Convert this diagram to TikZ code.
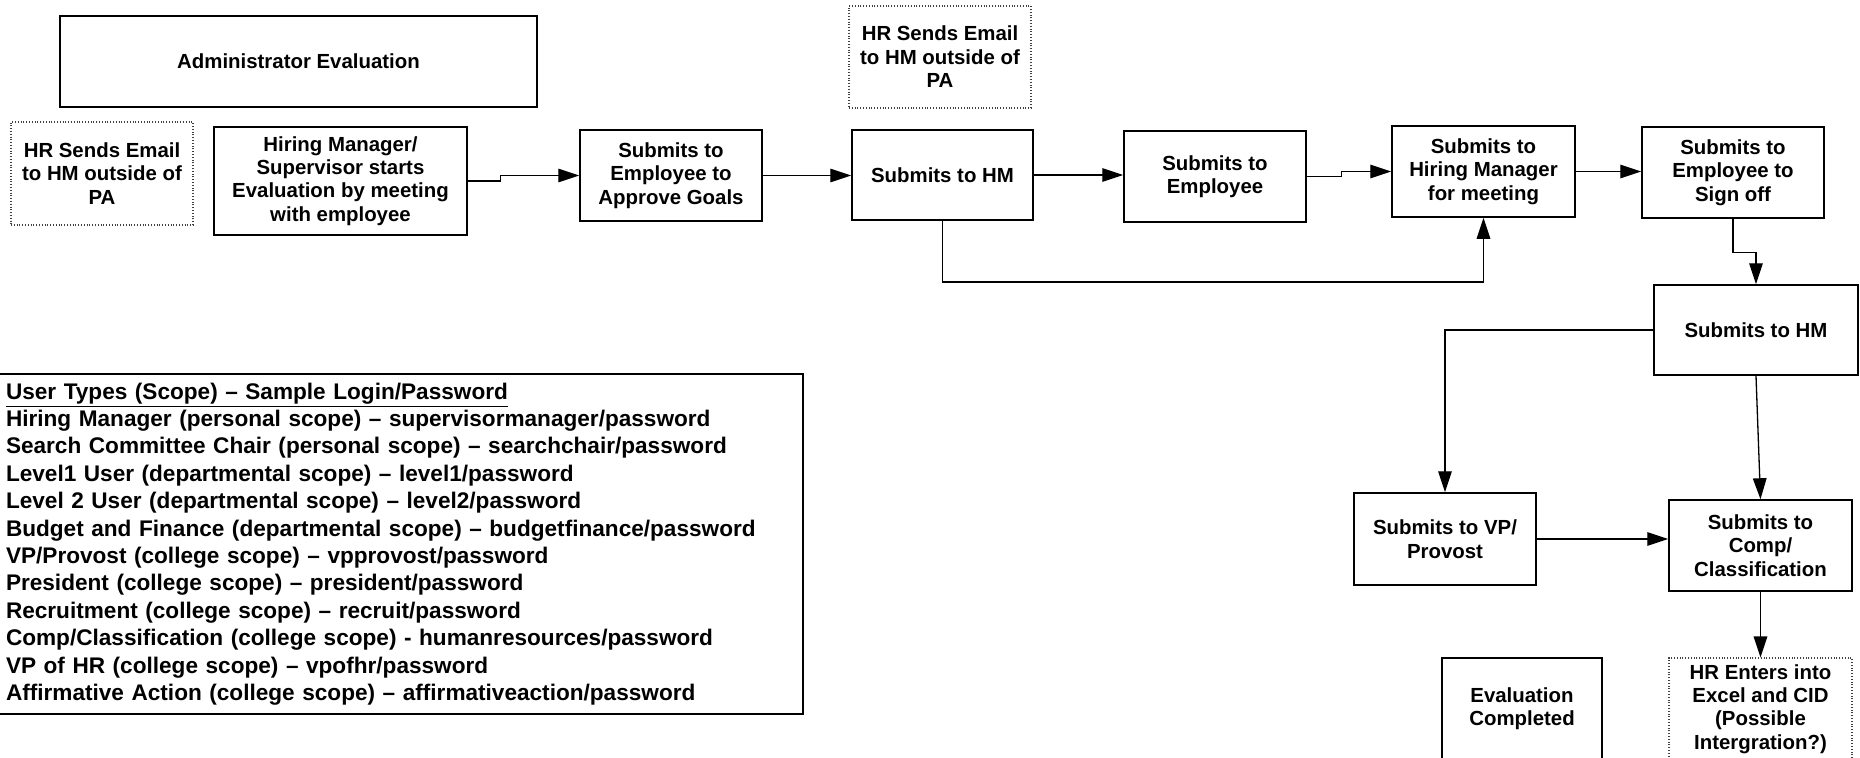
\documentclass[tikz,border=0pt]{standalone}
\usepackage{fontspec}
\setmainfont{Liberation Sans}
\usetikzlibrary{arrows.meta,calc}
\begin{document}
\begin{tikzpicture}[x=0.5pt,y=-0.5pt,
  box/.style={draw, line width=0.75pt, align=center, inner sep=0pt,
    font=\fontsize{10.2}{11.7}\selectfont\bfseries},
  dotbox/.style={box, line width=0.55pt, draw=black!75, dash pattern=on 0.5pt off 0.9pt},
  conn/.style={line width=0.65pt, -{Triangle[length=10.5pt,width=6.8pt]}},
  userbox/.style={draw, line width=0.75pt, align=left, inner xsep=5.5pt, inner ysep=0pt,
    text width=393pt, minimum width=404pt, minimum height=170pt,
    font=\fontsize{11.3}{13.7}\selectfont\bfseries}]
\useasboundingbox (0,0) rectangle (1860,757);

% nodes
\node[box, minimum width=238.5pt, minimum height=45.5pt] (admin) at (298.5,61.5) {Administrator Evaluation};
\node[dotbox, minimum width=91pt, minimum height=51.5pt] (hrl) at (102,173.5) {HR Sends Email\\to HM outside of\\PA};
\node[box, minimum width=126.5pt, minimum height=54pt] (hm) at (340.5,181) {Hiring Manager/\\Supervisor starts\\Evaluation by meeting\\with employee};
\node[box, minimum width=91pt, minimum height=45.5pt] (goals) at (671,175.5) {Submits to\\Employee to\\Approve Goals};
\node[dotbox, minimum width=91pt, minimum height=51pt] (hrt) at (940,57) {HR Sends Email\\to HM outside of\\PA};
\node[box, minimum width=90.5pt, minimum height=45pt] (shm) at (942.5,175) {Submits to HM};
\node[box, minimum width=91pt, minimum height=45.5pt] (semp) at (1215,176.5) {Submits to\\Employee};
\node[box, minimum width=91.5pt, minimum height=45.5pt] (meet) at (1483.5,171.5) {Submits to\\Hiring Manager\\for meeting};
\node[box, minimum width=91pt, minimum height=45.5pt] (sign) at (1733,172.5) {Submits to\\Employee to\\Sign off};
\node[box, minimum width=102pt, minimum height=45pt] (hmr) at (1756,330) {Submits to HM};
\node[box, minimum width=91pt, minimum height=46pt] (vp) at (1445,539) {Submits to VP/\\Provost};
\node[box, minimum width=91.5pt, minimum height=45.5pt] (comp) at (1760.5,545.5) {Submits to\\Comp/\\Classification};
\node[dotbox, minimum width=91.5pt, minimum height=51pt] (hre) at (1760.5,709) {HR Enters into\\Excel and CID\\(Possible\\Intergration?)};
\node[box, minimum width=80pt, minimum height=51pt] (eval) at (1522,709) {Evaluation\\Completed};

\node[userbox] (users) at (399,544) {\underline{User Types (Scope) – Sample Login/Password}\\
Hiring Manager (personal scope) – supervisormanager/password\\
Search Committee Chair (personal scope) – searchchair/password\\
Level1 User (departmental scope) – level1/password\\
Level 2 User (departmental scope) – level2/password\\
Budget and Finance (departmental scope) – budgetfinance/password\\
VP/Provost (college scope) – vpprovost/password\\
President (college scope) – president/password\\
Recruitment (college scope) – recruit/password\\
Comp/Classification (college scope) - humanresources/password\\
VP of HR (college scope) – vpofhr/password\\
Affirmative Action (college scope) – affirmativeaction/password};

% connectors
\coordinate (loopy) at (0,282);
\draw[conn] (hm.east) -- ++(33,0) |- (goals.west);
\draw[conn] (goals.east) -- (goals.east -| shm.west);
\draw[conn] (shm.east) -- (shm.east -| semp.west);
\draw[conn] (semp.east) -- ++(35,0) |- (meet.west);
\draw[conn] (meet.east) -- (meet.east -| sign.west);
\draw[conn] (shm.south) -- (shm.south |- loopy) -| (meet.south);
\draw[conn] (sign.south) -- ++(0,34) -| (hmr.north);
\draw[conn] (hmr.west) -| (vp.north);
\draw[conn] (hmr.south) -- (comp.north);
\draw[conn] (vp.east) -- (vp.east -| comp.west);
\draw[conn] (comp.south) -- (hre.north);
\end{tikzpicture}
\end{document}
